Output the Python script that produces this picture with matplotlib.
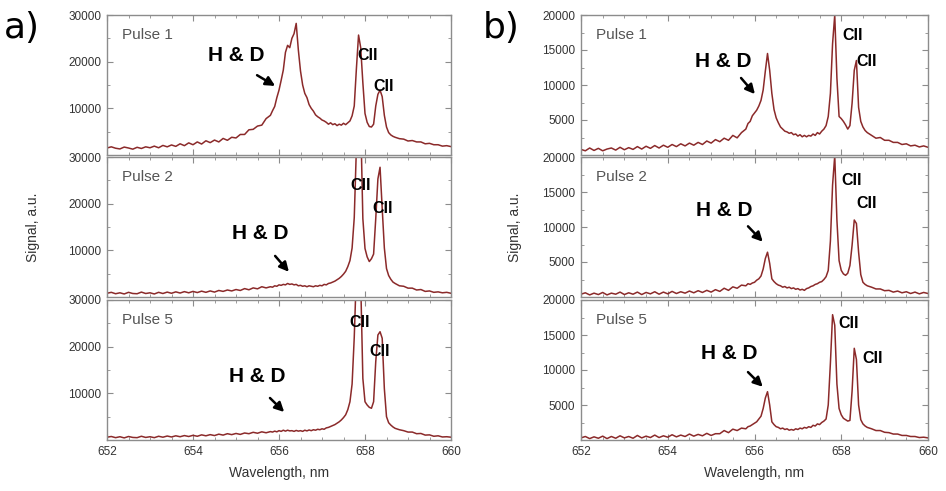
import numpy as np
import matplotlib
matplotlib.use("Agg")
import matplotlib.pyplot as plt
from matplotlib.ticker import MultipleLocator

plt.rcParams['font.family'] = ['Liberation Sans', 'DejaVu Sans']

# wavelength grid (nm): coarse on the wings, finer across the lines
wavelength = np.round(np.concatenate([np.arange(652.0, 655.75, 0.1),
                                      np.arange(655.8, 658.675, 0.05),
                                      np.arange(658.7, 660.05, 0.1)]), 3)

# a) signal, a.u.
a_pulse1 = [1500, 1750, 1450, 1300, 1700, 1500, 1250, 1650, 1400, 1750, 1550, 1900, 1550, 2050, 1750, 2150, 1850, 2400, 2000, 2600,
            2200, 2800, 2350, 3050, 2650, 3200, 2800, 3550, 3150, 3800, 3650, 4400, 4400, 5400, 5500, 6200, 6400, 7800,
            8500, 9500, 10400, 12300, 13900, 16000, 18200, 22000, 23500, 23000, 25000, 26000, 28200, 22500, 18000, 15000,
            13200, 12300, 10800, 10000, 9400, 8600, 8200, 7900, 7500, 7300, 7000, 6600, 6900, 6500, 6700, 6300, 6600, 6400,
            6800, 6500, 6900, 7300, 8400, 10500, 18500, 25700, 23000, 15500, 8900, 7000, 6100, 6000, 6600, 10500, 13000, 13900,
            12500, 8500, 6000, 4800, 4300, 4000,
            3800, 3500, 3400, 3000, 3100, 2800, 2800, 2400, 2500, 2200, 2200, 1900, 2000, 1800]
a_pulse2 = [800, 1000, 700, 900, 650, 1000, 750, 700, 1050, 750, 900, 650, 1000, 750, 1050, 800, 1100, 850, 1150, 900,
            1200, 950, 1250, 1000, 1300, 1050, 1400, 1200, 1500, 1300, 1600, 1400, 1800, 1550, 1950, 1750, 2200, 1950,
            2200, 2100, 2400, 2300, 2600, 2500, 2700, 2600, 2900, 2700, 2800, 2600, 2700, 2400, 2500, 2300, 2400, 2200,
            2400, 2300, 2200, 2400, 2300, 2500, 2400, 2700, 2600, 2900, 3000, 3200, 3400, 3700, 4000, 4400, 4900, 5500,
            6500, 7800, 10500, 17000, 32000, 45000, 38000, 16800, 10400, 8600, 7600, 8200, 9200, 16800, 25300, 27800,
            19000, 10500, 6100, 4600, 3800, 3200,
            2900, 2400, 2300, 1900, 1900, 1500, 1600, 1200, 1300, 1000, 1100, 900, 1000, 800]
a_pulse5 = [600, 750, 500, 700, 450, 750, 550, 500, 800, 550, 700, 500, 800, 600, 850, 650, 900, 700, 950, 750,
            1000, 800, 1100, 900, 1150, 950, 1250, 1050, 1350, 1150, 1400, 1200, 1500, 1350, 1650, 1450, 1750, 1550,
            1800, 1700, 1900, 1750, 2000, 1850, 2100, 1900, 2100, 1950, 2000, 1850, 2050, 1900, 2000, 1850, 2100, 1950,
            2150, 2000, 2200, 2100, 2300, 2200, 2400, 2300, 2600, 2700, 2900, 3100, 3300, 3600, 3900, 4300, 4800, 5400,
            6500, 8200, 12000, 22000, 36000, 42000, 34000, 13200, 8200, 7500, 7000, 6800, 8200, 16800, 22500, 23200,
            21800, 11000, 5000, 3700, 3200, 2800,
            2500, 2200, 2000, 1700, 1700, 1350, 1400, 1050, 1100, 800, 900, 650, 700, 600]

# b) signal, a.u.
b_pulse1 = [800, 600, 1000, 650, 950, 600, 850, 1000, 700, 1100, 750, 1050, 800, 1200, 850, 1250, 950, 1350, 1000, 1400,
            1100, 1500, 1200, 1600, 1300, 1700, 1400, 1800, 1500, 2000, 1700, 2200, 1900, 2400, 2100, 2800, 2450, 3200,
            3700, 4500, 4800, 5600, 6000, 6400, 7000, 7800, 9300, 12000, 14500, 12100, 8800, 6500, 5300, 4600,
            4000, 3700, 3400, 3300, 3100, 3200, 2900, 3000, 2700, 2900, 2600, 2800, 2600, 2800, 2700, 3000, 2800, 3200,
            3000, 3400, 3700, 4200, 5500, 8800, 15900, 20000, 11000, 5500, 5200, 4800, 4300, 3700, 4200, 7400, 12100, 13500,
            6800, 4800, 4000, 3500, 3200, 3000,
            2800, 2400, 2500, 2100, 2100, 1800, 1800, 1500, 1600, 1300, 1400, 1150, 1300, 1100]
b_pulse2 = [400, 600, 300, 550, 350, 650, 300, 550, 400, 700, 350, 600, 400, 700, 350, 650, 450, 750, 400, 700,
            450, 800, 500, 750, 550, 850, 600, 900, 650, 950, 700, 1050, 800, 1250, 950, 1450, 1250, 1700,
            1600, 1900, 1800, 2000, 2100, 2400, 2600, 3000, 4000, 5500, 6400, 4800, 2600, 2200, 1900, 1700,
            1600, 1400, 1500, 1300, 1400, 1200, 1300, 1100, 1200, 1000, 1100, 950, 1200, 1300, 1500, 1600, 1800, 1900,
            2100, 2200, 2500, 2900, 3800, 8000, 16000, 20200, 11000, 5200, 3800, 3300, 3100, 3400, 4500, 7400, 11000, 10500,
            6400, 3200, 2100, 1800, 1600, 1500,
            1400, 1150, 1150, 900, 950, 700, 850, 600, 750, 500, 700, 450, 650, 500]
b_pulse5 = [300, 500, 200, 450, 250, 550, 200, 500, 250, 600, 300, 500, 250, 650, 300, 550, 350, 700, 350, 600,
            400, 750, 450, 700, 500, 850, 550, 800, 600, 950, 650, 900, 900, 1350, 1050, 1550, 1350, 1700,
            1600, 1900, 2000, 2200, 2400, 2600, 3000, 3400, 4500, 6000, 6900, 5000, 2600, 2200, 1900, 1800,
            1600, 1700, 1500, 1600, 1400, 1500, 1400, 1600, 1500, 1700, 1600, 1800, 1700, 1900, 1800, 2100, 2000, 2300,
            2200, 2500, 2700, 3000, 5000, 11000, 17900, 16400, 8000, 4500, 3600, 3100, 2900, 2700, 2800, 7000, 13100, 11500,
            5000, 2900, 2300, 2000, 1800, 1700,
            1600, 1350, 1350, 1100, 1050, 850, 850, 650, 650, 500, 500, 350, 400, 300]

pulse_names = ["Pulse 1", "Pulse 2", "Pulse 5"]

# annotation anchors (wavelength, signal): text centre, arrow tail, arrow head
a_hd = [((655.0, 21400), (655.49, 17100), (655.91, 14800)),
        ((655.56, 13700), (655.91, 8800), (656.23, 5400)),
        ((655.49, 13500), (655.79, 9000), (656.12, 6000))]
a_cii = [((658.07, 21400), (658.44, 14600)),
         ((657.9, 24000), (658.4, 18900)),
         ((657.88, 25100), (658.35, 18900))]
b_hd = [((655.27, 13300), (655.69, 11000), (656.01, 8700)),
        ((655.3, 12400), (655.85, 10100), (656.19, 7900)),
        ((655.41, 12400), (655.85, 9700), (656.19, 7600))]
b_cii = [((658.27, 17100), (658.59, 13300)),
         ((658.25, 16600), (658.59, 13400)),
         ((658.17, 16700), (658.73, 11700))]

line_color = "#8b2a2a"
spine_color = "#8c8c8c"
tick_color = "#333333"

W, H = 946, 491
fig = plt.figure(figsize=(W / 100, H / 100), dpi=100)


def make_column(left_px, width_px, series, ymax, ymajor, hd, cii):
    tops = [15, 157, 300]
    axes = []
    for i, (top, y) in enumerate(zip(tops, series)):
        ax = fig.add_axes([left_px / W, 1 - (top + 140) / H, width_px / W, 140 / H])
        ax.plot(wavelength, y, color=line_color, lw=1.1)
        ax.set_xlim(652, 660)
        ax.set_ylim(0, ymax)
        ax.xaxis.set_major_locator(MultipleLocator(2))
        ax.xaxis.set_minor_locator(MultipleLocator(0.5))
        ax.yaxis.set_minor_locator(MultipleLocator(ymajor / 2))
        ax.set_yticks(np.arange(ymajor, ymax + 1, ymajor))
        ax.tick_params(which='both', direction='in', top=True, right=True,
                       color=spine_color, labelcolor=tick_color, labelsize=8.5, pad=4)
        ax.tick_params(which='major', length=4)
        ax.tick_params(which='minor', length=2.5)
        for s in ax.spines.values():
            s.set_color(spine_color)
            s.set_linewidth(1.0)
        if i < 2:
            ax.tick_params(labelbottom=False)
        ax.text(0.044, 0.857, pulse_names[i], transform=ax.transAxes, fontsize=11,
                color="#555555", va='center', ha='left')
        (tx, ty), tail, head = hd[i]
        ax.text(tx, ty, "H & D", fontsize=15, fontweight='bold', ha='center', va='center')
        ax.annotate("", xy=head, xytext=tail,
                    arrowprops=dict(arrowstyle="-|>,head_length=0.55,head_width=0.28",
                                    color='black', lw=1.8, shrinkA=0, shrinkB=0))
        for cx, cy in cii[i]:
            ax.text(cx, cy, "CII", fontsize=11.5, fontweight='bold', ha='center', va='center')
        axes.append(ax)
    axes[-1].set_xlabel("Wavelength, nm", fontsize=10, color=tick_color, labelpad=6)
    return axes


make_column(107, 344, [a_pulse1, a_pulse2, a_pulse5], 30000, 10000, a_hd, a_cii)
make_column(581, 347, [b_pulse1, b_pulse2, b_pulse5], 20000, 5000, b_hd, b_cii)

fig.text(33 / W, 1 - 227 / H, "Signal, a.u.", rotation=90, ha='center', va='center',
         fontsize=10, color=tick_color)
fig.text(515 / W, 1 - 227 / H, "Signal, a.u.", rotation=90, ha='center', va='center',
         fontsize=10, color=tick_color)
fig.text(4 / W, 1 - 28 / H, "a)", fontsize=26, family='DejaVu Sans', ha='left', va='center')
fig.text(483 / W, 1 - 28 / H, "b)", fontsize=26, family='DejaVu Sans', ha='left', va='center')

fig.savefig("out.png", dpi=100)
